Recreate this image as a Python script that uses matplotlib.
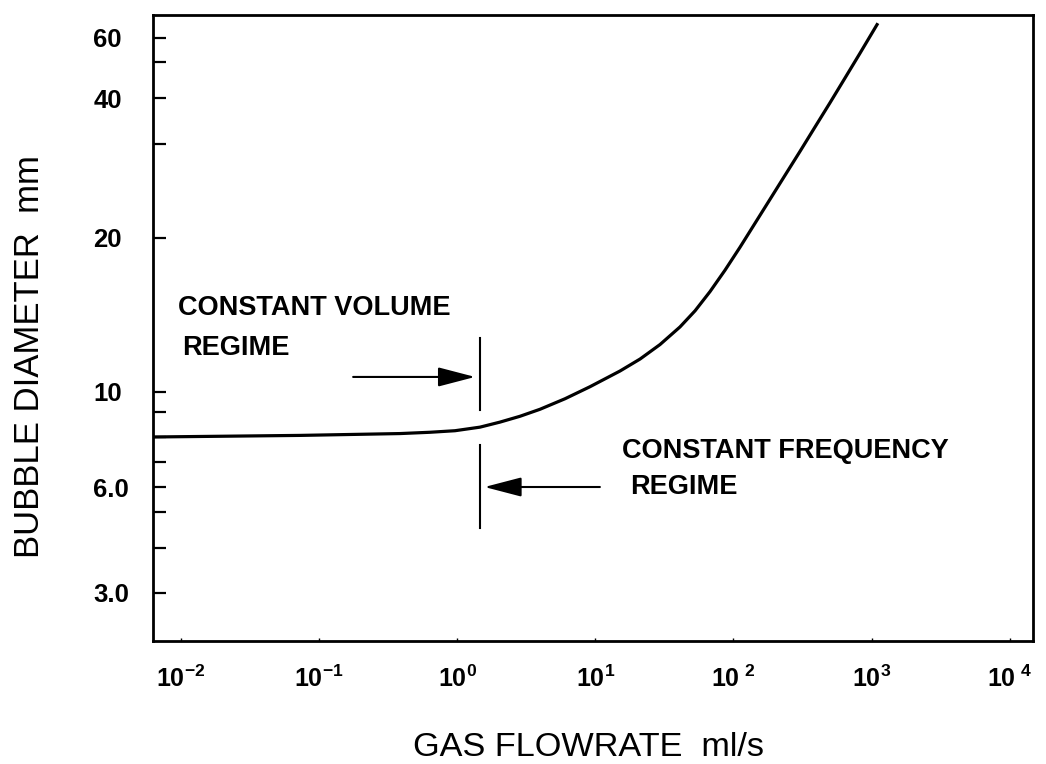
import numpy as np
import matplotlib
matplotlib.use("Agg")
import matplotlib.pyplot as plt
from matplotlib.ticker import NullLocator

plt.rcParams['font.family'] = 'Liberation Sans'
plt.rcParams['mathtext.fontset'] = 'custom'
plt.rcParams['mathtext.rm'] = 'Liberation Sans'
plt.rcParams['mathtext.bf'] = 'Liberation Sans:bold'

# bubble diameter (mm) against gas flowrate (ml/s)
flow = [0.0063, 0.073, 0.386, 0.637, 0.966, 1.465, 2.04, 2.85, 3.98, 6.04,
        9.16, 15.1, 21.1, 29.4, 41.0, 52.7, 67.6, 86.8, 111.4, 143.1, 183.7,
        235.9, 302.8, 388.9, 499.4, 641, 823, 1093]
diameter = [8.0, 8.06, 8.13, 8.18, 8.24, 8.38, 8.58, 8.82, 9.13, 9.65,
            10.24, 10.99, 11.6, 12.38, 13.4, 14.41, 15.71, 17.3, 19.18, 21.31,
            23.63, 26.21, 29.06, 33.37, 38.84, 45.28, 53.46, 66.45]

# boundary between the two regimes
boundary_flow = 1.47
upper_mark = [9.1, 12.75]
lower_mark = [4.53, 7.65]
volume_arrow_flow = [0.177, 1.35]
volume_arrow_diam = 10.7
freq_arrow_flow = [10.8, 1.58]
freq_arrow_diam = 6.0

x_ticks = [1e-2, 1e-1, 1e0, 1e1, 1e2, 1e3, 1e4]
x_tick_labels = [r'$\mathbf{10^{-2}}$', r'$\mathbf{10^{-1}}$', r'$\mathbf{10^{0}}$',
                 r'$\mathbf{10^{1}}$', r'$\mathbf{10^{\ 2}}$', r'$\mathbf{10^{3}}$',
                 r'$\mathbf{10^{\ 4}}$']
y_major = [3, 6, 10, 20, 40, 60]
y_major_labels = ['3.0', '6.0', '10', '20', '40', '60']
y_minor = [4, 5, 7, 8, 9, 30, 50]

# the diameter axis is hand ruled, not a clean log scale:
# each graduation sits at its own fraction of the axis height
scale_values = np.log10([2.2, 3, 4, 5, 6, 7, 8, 9, 10, 20, 30, 40, 50, 60, 71.5])
scale_heights = np.array([0.0, 0.0767, 0.1486, 0.2061, 0.2460, 0.2859, 0.3259,
                          0.3658, 0.3978, 0.6438, 0.7939, 0.8674, 0.9249, 0.9633, 1.0])


def forward(y):
    y = np.clip(np.asarray(y, dtype=float), 1e-6, None)
    return np.interp(np.log10(y), scale_values, scale_heights)


def inverse(p):
    return 10 ** np.interp(np.asarray(p, dtype=float), scale_heights, scale_values)


fig = plt.figure(figsize=(10.46, 7.64), dpi=100)
ax = fig.add_axes([153 / 1046, 1 - 641 / 764, 880 / 1046, 626 / 764])

ax.set_xscale('log')
ax.set_yscale('function', functions=(forward, inverse))
ax.set_xlim(10 ** -2.2, 10 ** 4.167)
ax.set_ylim(2.2, 71.5)

ax.plot(flow, diameter, color='black', lw=2.3, solid_joinstyle='round')
ax.plot([boundary_flow] * 2, upper_mark, color='black', lw=1.5)
ax.plot([boundary_flow] * 2, lower_mark, color='black', lw=1.5)

arrow = dict(arrowstyle='-|>,head_length=2.3,head_width=0.6', color='black',
             lw=1.5, shrinkA=0, shrinkB=0, mutation_scale=10)
ax.annotate('', xy=(volume_arrow_flow[1], volume_arrow_diam),
            xytext=(volume_arrow_flow[0], volume_arrow_diam), arrowprops=arrow)
ax.annotate('', xy=(freq_arrow_flow[1], freq_arrow_diam),
            xytext=(freq_arrow_flow[0], freq_arrow_diam), arrowprops=arrow)

txt = dict(transform=ax.transAxes, fontsize=19.5, fontweight='bold', va='baseline')
ax.text(0.0284, 0.521, 'CONSTANT VOLUME', **txt)
ax.text(0.033, 0.457, 'REGIME', **txt)
ax.text(0.533, 0.292, 'CONSTANT FREQUENCY', **txt)
ax.text(0.542, 0.235, 'REGIME', **txt)

ax.set_xticks(x_ticks)
ax.set_xticklabels(x_tick_labels)
ax.xaxis.set_minor_locator(NullLocator())
ax.set_yticks(y_major)
ax.set_yticklabels(y_major_labels, fontweight='bold', ha='left')
ax.set_yticks(y_minor, minor=True)

ax.tick_params(axis='x', which='both', direction='in', length=2.5, width=1,
               pad=18, labelsize=18)
ax.tick_params(axis='y', which='both', direction='in', length=9.5, width=1.6,
               pad=43, labelsize=18.5)
for s in ax.spines.values():
    s.set_linewidth(2)

fig.text(413 / 1046, 1 - 756 / 764, 'GAS FLOWRATE  ml/s', fontsize=24.7,
         ha='left', va='baseline')
fig.text(30 / 1046, 1 - 357 / 764, 'BUBBLE DIAMETER  mm', fontsize=25,
         rotation=90, ha='center', va='center')

fig.savefig('out.png', dpi=100)
